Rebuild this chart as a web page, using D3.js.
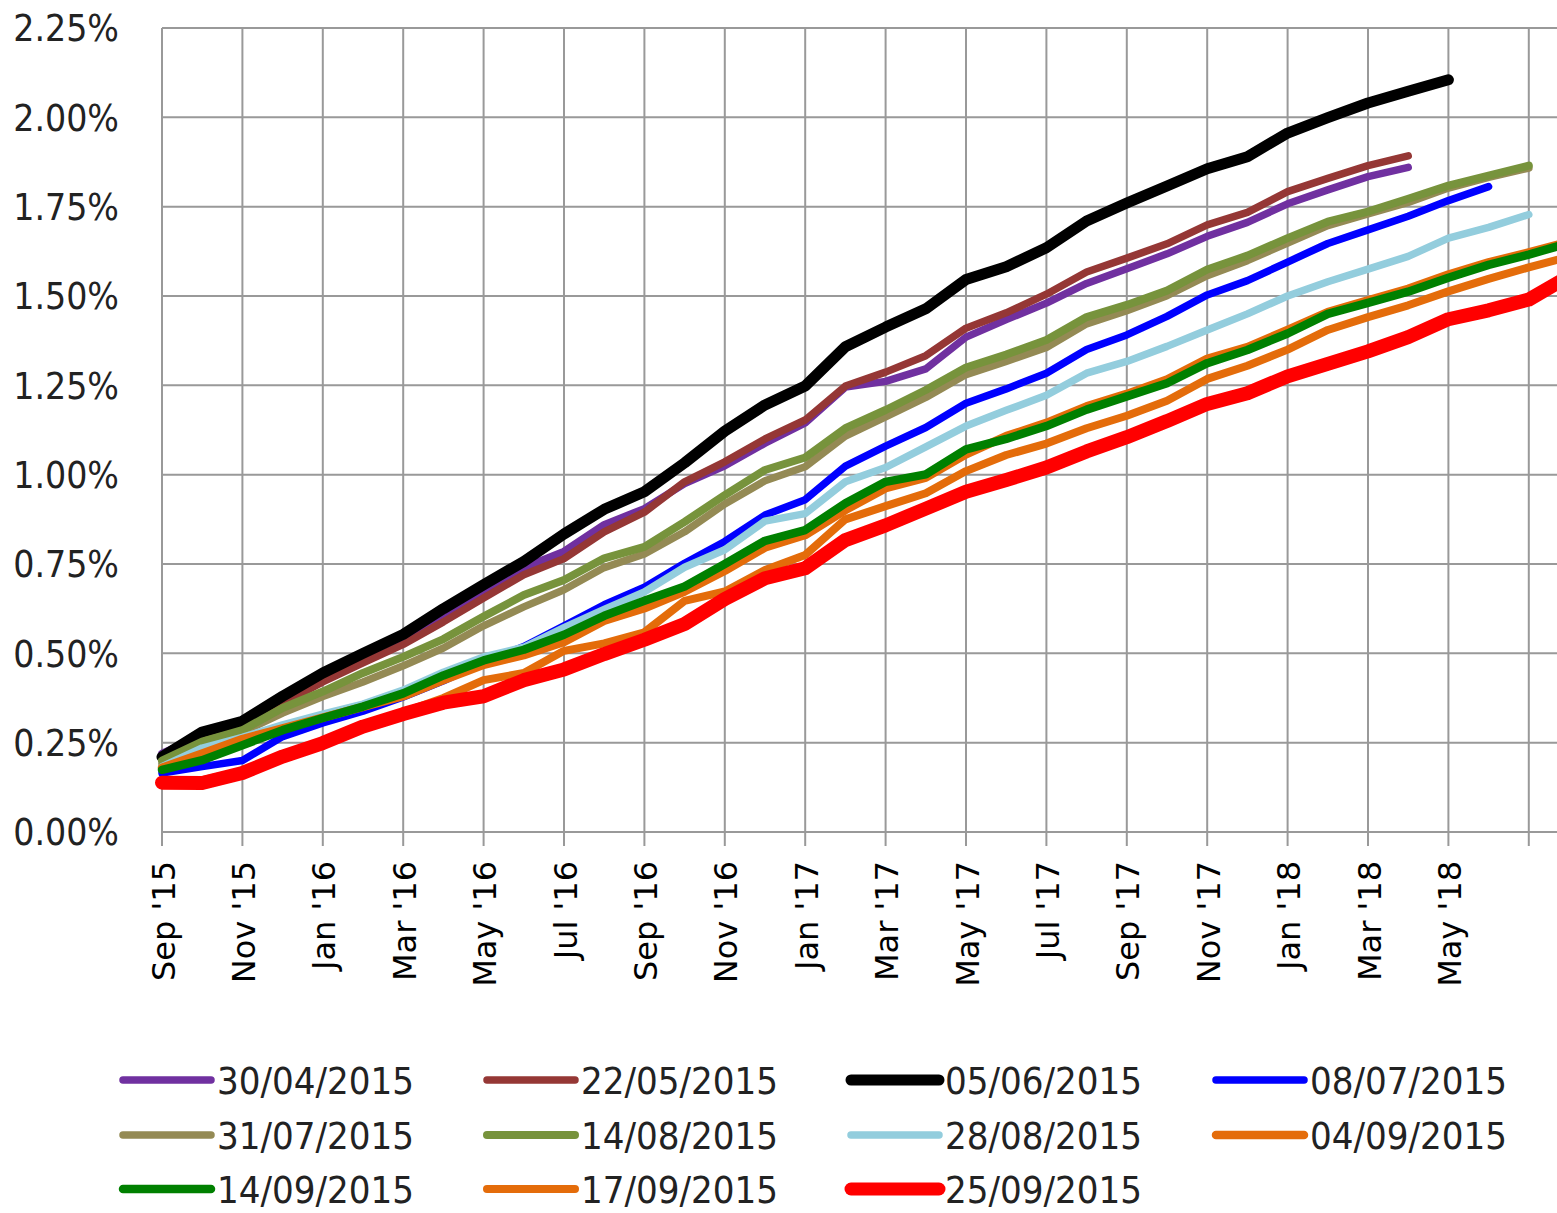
<!DOCTYPE html>
<html>
<head>
<meta charset="utf-8">
<script src="https://cdn.jsdelivr.net/npm/d3@7"></script>
<style>
  body { margin: 0; background: #fff; }
  svg { display: block; }
</style>
</head>
<body>
<div id="chart"></div>
<script>
// month index 0 = Sep '15, one step per month
var tickMonths = [0,2,4,6,8,10,12,14,16,18,20,22,24,26,28,30,32,34];
var tickLabels = ["Sep '15","Nov '15","Jan '16","Mar '16","May '16","Jul '16","Sep '16","Nov '16",
                  "Jan '17","Mar '17","May '17","Jul '17","Sep '17","Nov '17","Jan '18","Mar '18","May '18",""];
var yTicks = [0,0.25,0.5,0.75,1,1.25,1.5,1.75,2,2.25];

var seriesNames = ["30/04/2015","22/05/2015","05/06/2015","08/07/2015","31/07/2015","14/08/2015",
                   "28/08/2015","04/09/2015","14/09/2015","17/09/2015","25/09/2015"];

var s3004 = [0.22,0.27,0.305,0.37,0.435,0.49,0.545,0.61,0.673,0.74,0.785,0.86,0.905,0.975,1.025,1.088,1.145,1.245,1.261,1.296,1.385,1.434,1.48,1.535,1.576,1.618,1.667,1.706,1.758,1.797,1.834,1.86];
var s2205 = [0.20,0.26,0.295,0.36,0.42,0.473,0.525,0.588,0.655,0.72,0.765,0.84,0.895,0.98,1.036,1.10,1.153,1.248,1.287,1.333,1.41,1.453,1.505,1.567,1.606,1.646,1.699,1.734,1.792,1.829,1.865,1.892];
var s0506 = [0.21,0.28,0.31,0.38,0.445,0.50,0.553,0.625,0.692,0.757,0.834,0.903,0.952,1.033,1.122,1.195,1.248,1.358,1.413,1.464,1.546,1.582,1.635,1.71,1.76,1.808,1.856,1.89,1.956,1.999,2.04,2.073,2.105];
var s0807 = [0.165,0.183,0.20,0.267,0.305,0.338,0.378,0.423,0.475,0.519,0.577,0.636,0.685,0.752,0.813,0.887,0.93,1.024,1.08,1.132,1.20,1.24,1.284,1.35,1.391,1.443,1.503,1.543,1.595,1.647,1.685,1.723,1.767,1.806];
var s3107 = [0.19,0.245,0.28,0.333,0.379,0.42,0.465,0.515,0.577,0.63,0.678,0.74,0.778,0.84,0.918,0.983,1.022,1.108,1.162,1.216,1.28,1.317,1.356,1.422,1.459,1.501,1.557,1.599,1.648,1.697,1.73,1.762,1.802,1.832,1.858];
var s1408 = [0.20,0.253,0.285,0.347,0.393,0.445,0.49,0.54,0.603,0.663,0.705,0.766,0.798,0.868,0.943,1.013,1.048,1.13,1.181,1.237,1.30,1.336,1.377,1.441,1.475,1.515,1.574,1.613,1.662,1.708,1.736,1.772,1.809,1.837,1.865];
var s2808 = [0.183,0.235,0.265,0.30,0.33,0.358,0.397,0.447,0.49,0.517,0.572,0.623,0.672,0.741,0.79,0.87,0.891,0.98,1.02,1.078,1.136,1.18,1.222,1.284,1.317,1.359,1.405,1.45,1.50,1.54,1.575,1.611,1.662,1.692,1.728];
var s0409 = [0.18,0.22,0.26,0.29,0.32,0.35,0.38,0.425,0.468,0.495,0.532,0.591,0.626,0.673,0.731,0.796,0.831,0.901,0.962,0.992,1.057,1.108,1.145,1.191,1.226,1.266,1.324,1.357,1.405,1.455,1.488,1.52,1.56,1.594,1.622,1.652];
var s1409 = [0.174,0.201,0.243,0.285,0.319,0.351,0.388,0.438,0.48,0.51,0.552,0.605,0.647,0.687,0.75,0.815,0.845,0.92,0.98,1.001,1.071,1.10,1.136,1.182,1.219,1.256,1.312,1.349,1.395,1.45,1.481,1.512,1.551,1.587,1.616,1.648];
var s1709 = [0.145,0.145,0.17,0.215,0.255,0.30,0.335,0.375,0.425,0.445,0.507,0.528,0.559,0.647,0.673,0.733,0.775,0.875,0.912,0.948,1.01,1.055,1.087,1.13,1.165,1.207,1.268,1.305,1.35,1.405,1.441,1.474,1.513,1.548,1.58,1.61];
var s2509 = [0.138,0.137,0.165,0.211,0.249,0.295,0.33,0.362,0.38,0.425,0.455,0.498,0.538,0.582,0.652,0.71,0.738,0.817,0.858,0.905,0.952,0.985,1.02,1.065,1.105,1.15,1.198,1.228,1.275,1.31,1.345,1.385,1.435,1.46,1.49,1.555];

var allSeries = [s3004,s2205,s0506,s0807,s3107,s1408,s2808,s0409,s1409,s1709,s2509];
var colors = ["#7030A0","#953735","#000000","#0000FF","#948A54","#77933C","#93CDDD","#E46C0A","#008000","#E46C0A","#FF0000"];
var widths = [7.5,7.5,11,7.5,7.5,8,7.5,8.5,8.5,8,14];

var W = 1557, H = 1213;
var margin = {top: 28, left: 162};
var plotW = 1407, plotH = 804;

var svg = d3.select("#chart").append("svg")
  .attr("width", W)
  .attr("height", H)
  .style("font-family", "'DejaVu Sans Condensed', 'DejaVu Sans', sans-serif");

svg.append("rect").attr("width", W).attr("height", H).attr("fill", "#fff");

var x = d3.scaleLinear().domain([0, 35]).range([margin.left, margin.left + plotW]);
var y = d3.scaleLinear().domain([0, 2.25]).range([margin.top + plotH, margin.top]);

var grid = svg.append("g").attr("stroke", "#999").attr("stroke-width", 2);

// horizontal gridlines
grid.selectAll(".hg").data(yTicks).enter().append("line")
  .attr("x1", x(0)).attr("x2", x(35))
  .attr("y1", function(d){ return y(d); })
  .attr("y2", function(d){ return y(d); });

// vertical gridlines + ticks below the axis
grid.selectAll(".vg").data(tickMonths).enter().append("line")
  .attr("x1", function(d){ return x(d); })
  .attr("x2", function(d){ return x(d); })
  .attr("y1", y(2.25))
  .attr("y2", y(0) + 14);

// y labels
svg.selectAll(".yl").data(yTicks).enter().append("text")
  .attr("x", 119)
  .attr("y", function(d){ return y(d); })
  .attr("dy", "0.36em")
  .attr("text-anchor", "end")
  .style("font-size", "37px")
  .style("font-stretch", "condensed")
  .attr("fill", "#222")
  .text(function(d){ return d3.format(".2f")(d) + "%"; });

// x labels, rotated
svg.selectAll(".xl").data(tickMonths).enter().append("text")
  .attr("transform", function(d){ return "translate(" + (x(d) + 1) + "," + (y(0) + 29) + ") rotate(-90)"; })
  .attr("dy", "0.36em")
  .attr("text-anchor", "end")
  .style("font-family", "'DejaVu Sans', sans-serif")
  .style("font-size", "32px")
  .attr("fill", "#000")
  .text(function(d, i){ return tickLabels[i]; });

// lines
var line = d3.line()
  .x(function(d, i){ return x(i); })
  .y(function(d){ return y(d); });

svg.append("g").selectAll("path").data(allSeries).enter().append("path")
  .attr("d", line)
  .attr("fill", "none")
  .attr("stroke", function(d, i){ return colors[i]; })
  .attr("stroke-width", function(d, i){ return widths[i]; })
  .attr("stroke-linejoin", "round")
  .attr("stroke-linecap", "round");

// legend
var legCols = [123, 487, 851, 1216];
var legRows = [1080, 1135, 1189];
var leg = svg.append("g").selectAll("g").data(seriesNames).enter().append("g")
  .attr("transform", function(d, i){ return "translate(" + legCols[i % 4] + "," + legRows[Math.floor(i / 4)] + ")"; });

leg.append("line")
  .attr("x1", 0).attr("x2", 88)
  .attr("stroke", function(d, i){ return colors[i]; })
  .attr("stroke-width", function(d, i){ return Math.min(widths[i], 13); })
  .attr("stroke-linecap", "round");

leg.append("text")
  .attr("x", 94)
  .attr("dy", "0.36em")
  .style("font-size", "38px")
  .style("font-stretch", "condensed")
  .attr("fill", "#222")
  .text(function(d){ return d; });
</script>
</body>
</html>
